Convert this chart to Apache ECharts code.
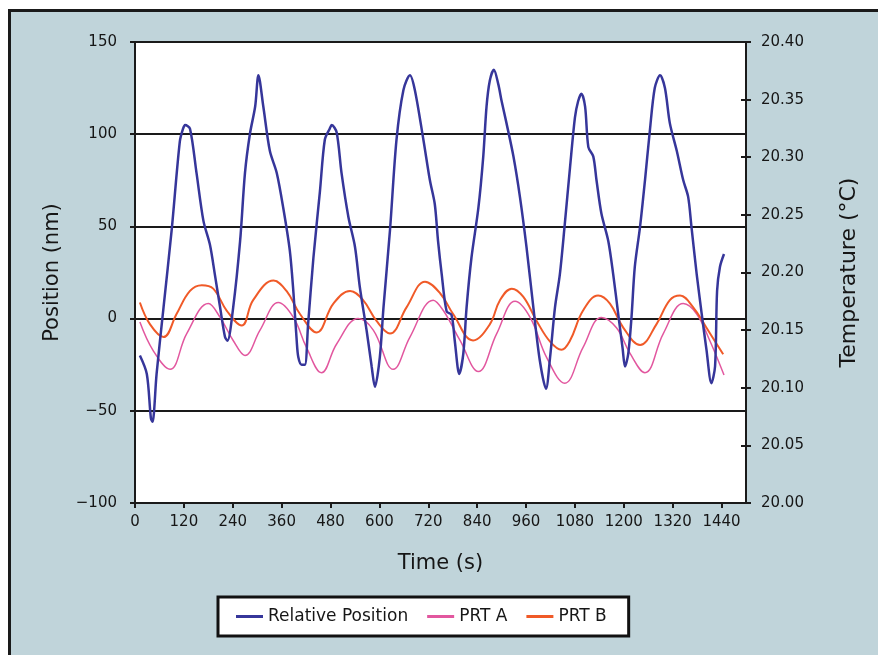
<!DOCTYPE html>
<html>
<head>
<meta charset="utf-8">
<script src="https://cdn.jsdelivr.net/npm/echarts@6/dist/echarts.min.js"></script>
<style>
  html, body { margin: 0; padding: 0; background: #ffffff; }
  #frame { position: absolute; left: 8px; top: 9px; right: 0; bottom: 0; background: #C0D4DA; border-left: 3px solid #1a1a1a; border-top: 3px solid #1a1a1a; }
  #chart { position: absolute; left: 0; top: 0; width: 878px; height: 655px; }
</style>
</head>
<body>
<div id="frame"></div>
<div id="chart"></div>
<script>
// ---- Data ----
const xTicks = [0, 120, 240, 360, 480, 600, 720, 840, 960, 1080, 1200, 1320, 1440];
const posTicks = [-100, -50, 0, 50, 100, 150];
const tempTicks = [20.00, 20.05, 20.10, 20.15, 20.20, 20.25, 20.30, 20.35, 20.40];

// Relative Position (nm) vs time (s)
const posTime = [12, 29, 39, 43, 53, 70, 90, 110, 118, 123, 135, 151, 168, 184, 196, 209, 221, 227, 241, 258, 270, 282, 295, 303, 315, 331, 348, 364, 380, 389, 397, 401, 409, 417, 425, 438, 454, 466, 478, 483, 495, 507, 524, 540, 552, 569, 581, 589, 601, 610, 626, 642, 659, 675, 687, 708, 724, 736, 744, 753, 765, 777, 785, 796, 806, 814, 826, 843, 855, 863, 871, 881, 892, 900, 912, 929, 945, 961, 978, 994, 1009, 1019, 1031, 1043, 1055, 1068, 1080, 1088, 1096, 1105, 1113, 1125, 1133, 1145, 1162, 1174, 1186, 1197, 1203, 1211, 1219, 1227, 1240, 1252, 1264, 1276, 1289, 1301, 1313, 1330, 1346, 1358, 1366, 1379, 1391, 1403, 1415, 1424, 1429, 1436, 1446];
const posValues = [-20, -30, -54, -56, -30, 6, 48, 96, 103, 105, 103, 79, 53, 40, 24, 6, -10, -12, 6, 42, 79, 100, 115, 132, 115, 91, 79, 60, 37, 14, -12, -21, -25, -25, -3, 33, 69, 97, 103, 105, 101, 79, 55, 39, 17, -7, -26, -37, -21, 6, 48, 97, 124, 132, 124, 97, 75, 62, 42, 24, 4, 2, -12, -30, -19, 6, 33, 60, 88, 115, 129, 135, 127, 118, 106, 88, 66, 39, 6, -23, -38, -21, 6, 24, 51, 82, 109, 118, 122, 115, 93, 88, 75, 57, 42, 24, 3, -16, -26, -19, 1, 28, 50, 75, 102, 125, 132, 125, 106, 91, 75, 66, 50, 24, 3, -17, -35, -26, 15, 28, 35];

// PRT A temperature (°C)
const prtATime = [12, 45, 86, 127, 180, 209, 241, 270, 307, 352, 389, 421, 458, 495, 548, 585, 634, 675, 732, 757, 798, 843, 888, 933, 970, 1011, 1055, 1100, 1145, 1182, 1215, 1252, 1297, 1346, 1379, 1411, 1446];
const prtAValues = [20.157, 20.132, 20.116, 20.147, 20.173, 20.161, 20.141, 20.128, 20.150, 20.174, 20.161, 20.135, 20.113, 20.138, 20.160, 20.150, 20.116, 20.144, 20.176, 20.167, 20.141, 20.114, 20.147, 20.175, 20.161, 20.126, 20.104, 20.135, 20.161, 20.152, 20.130, 20.113, 20.147, 20.173, 20.164, 20.141, 20.111];

// PRT B temperature (°C)
const prtBTime = [12, 37, 70, 102, 135, 164, 192, 225, 262, 290, 340, 372, 405, 446, 487, 528, 560, 593, 626, 667, 712, 749, 781, 830, 871, 896, 925, 953, 986, 1019, 1047, 1068, 1100, 1137, 1166, 1199, 1240, 1280, 1313, 1338, 1370, 1403, 1444];
const prtBValues = [20.174, 20.155, 20.144, 20.164, 20.184, 20.189, 20.186, 20.167, 20.154, 20.176, 20.193, 20.184, 20.164, 20.148, 20.173, 20.184, 20.176, 20.158, 20.147, 20.170, 20.192, 20.182, 20.164, 20.141, 20.155, 20.176, 20.186, 20.179, 20.158, 20.140, 20.133, 20.141, 20.167, 20.180, 20.173, 20.152, 20.137, 20.155, 20.176, 20.180, 20.170, 20.152, 20.129];

const seriesNames = ['Relative Position', 'PRT A', 'PRT B'];
const seriesColors = ['#36369A', '#E2579F', '#F05A28'];

function pairs(xs, ys) { return xs.map((x, i) => [x, ys[i]]); }

const FONT = 'DejaVu Sans';
const TXT = '#161616';

const chart = echarts.init(document.getElementById('chart'), null, { renderer: 'canvas' });
chart.setOption({
  backgroundColor: 'transparent',
  animation: false,
  textStyle: { fontFamily: FONT, color: TXT },
  grid: {
    left: 135, top: 42, right: 132, bottom: 152,
    show: true, backgroundColor: '#ffffff', borderColor: '#1a1a1a', borderWidth: 2
  },
  legend: {
    data: seriesNames,
    left: 218, top: 597,
    backgroundColor: '#ffffff',
    borderColor: '#111111', borderWidth: 3, borderRadius: 0,
    padding: [11, 22, 11, 18],
    icon: 'rect',
    itemWidth: 27, itemHeight: 3, itemGap: 19,
    textStyle: { fontFamily: FONT, fontSize: 17, color: TXT }
  },
  xAxis: {
    type: 'value', min: xTicks[0], max: 1500, interval: 120,
    name: 'Time (s)', nameLocation: 'middle', nameGap: 50,
    nameTextStyle: { fontFamily: FONT, fontSize: 21, color: TXT },
    axisLine: { show: true, onZero: false, lineStyle: { color: '#1a1a1a', width: 2 } },
    axisTick: { show: true, inside: false, length: 5, lineStyle: { color: '#1a1a1a', width: 2 } },
    axisLabel: { fontFamily: FONT, fontSize: 15, color: TXT, margin: 12, showMaxLabel: false,
      formatter: v => (xTicks.indexOf(v) >= 0 ? String(v) : '') },
    splitLine: { show: false }
  },
  yAxis: [
    {
      type: 'value', min: posTicks[0], max: posTicks[posTicks.length - 1], interval: 50, position: 'left',
      name: 'Position (nm)', nameLocation: 'middle', nameGap: 72, nameRotate: 90,
      nameTextStyle: { fontFamily: FONT, fontSize: 21, color: TXT },
      axisLine: { show: true, onZero: false, lineStyle: { color: '#1a1a1a', width: 2 } },
      axisTick: { show: true, inside: false, length: 5, lineStyle: { color: '#1a1a1a', width: 2 } },
      axisLabel: { fontFamily: FONT, fontSize: 15, color: TXT, margin: 18,
        formatter: v => String(v).replace('-', '\u2212') },
      splitLine: { show: true, lineStyle: { color: '#1a1a1a', width: 2 } }
    },
    {
      type: 'value', min: tempTicks[0], max: tempTicks[tempTicks.length - 1], interval: 0.05, position: 'right',
      name: 'Temperature (°C)', nameLocation: 'middle', nameGap: 92, nameRotate: 90,
      nameTextStyle: { fontFamily: FONT, fontSize: 22, color: TXT },
      axisLine: { show: true, onZero: false, lineStyle: { color: '#1a1a1a', width: 2 } },
      axisTick: { show: true, inside: false, length: 5, lineStyle: { color: '#1a1a1a', width: 2 } },
      axisLabel: { fontFamily: FONT, fontSize: 15, color: TXT, margin: 15, formatter: v => v.toFixed(2) },
      splitLine: { show: false }
    },
    {
      type: 'value', min: tempTicks[0], max: tempTicks[tempTicks.length - 1], interval: 0.05, position: 'right',
      axisLine: { show: false, onZero: false },
      axisTick: { show: true, inside: true, length: 5, lineStyle: { color: '#1a1a1a', width: 2 } },
      axisLabel: { show: false },
      splitLine: { show: false }
    }
  ],
  series: [
    {
      name: seriesNames[0], type: 'line', xAxisIndex: 0, yAxisIndex: 0,
      data: pairs(posTime, posValues), smooth: 0.3, symbol: 'none',
      lineStyle: { color: seriesColors[0], width: 2.5 }, itemStyle: { color: seriesColors[0] }, z: 4
    },
    {
      name: seriesNames[1], type: 'line', xAxisIndex: 0, yAxisIndex: 1,
      data: pairs(prtATime, prtAValues), smooth: 0.4, symbol: 'none',
      lineStyle: { color: seriesColors[1], width: 1.5 }, itemStyle: { color: seriesColors[1] }, z: 3
    },
    {
      name: seriesNames[2], type: 'line', xAxisIndex: 0, yAxisIndex: 1,
      data: pairs(prtBTime, prtBValues), smooth: 0.4, symbol: 'none',
      lineStyle: { color: seriesColors[2], width: 2 }, itemStyle: { color: seriesColors[2] }, z: 3
    }
  ]
});
</script>
</body>
</html>
